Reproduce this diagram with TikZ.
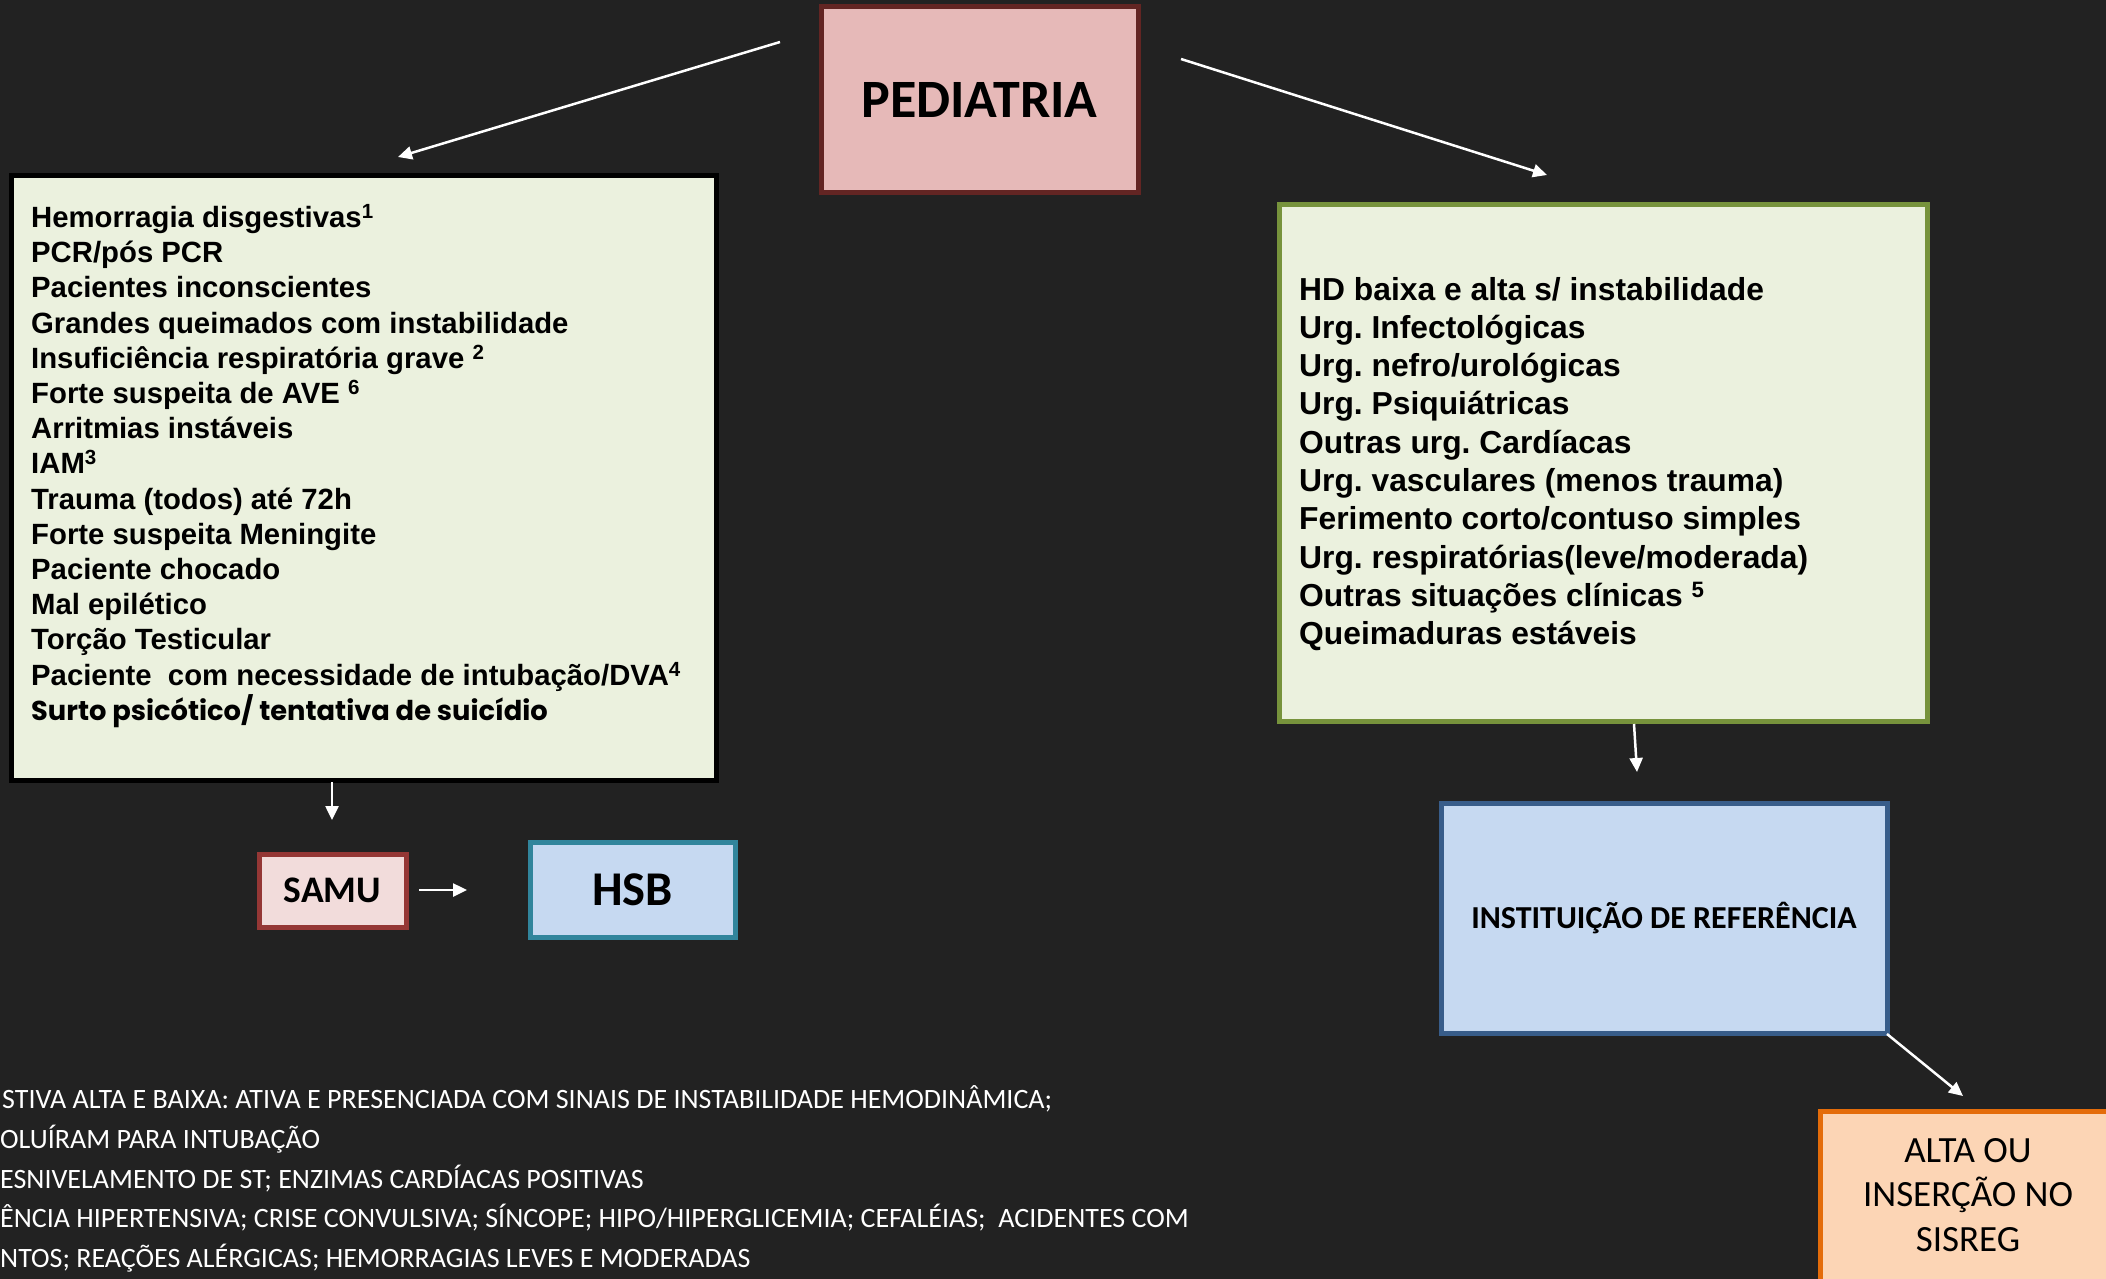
\documentclass[tikz,border=0pt]{standalone}
\usepackage{fontspec}
\setmainfont{Liberation Sans}
\newfontfamily\calib{Carlito}
\newfontfamily\gothic{Poppins}
\frenchspacing
\usetikzlibrary{arrows.meta}
\definecolor{bgc}{HTML}{222222}
\definecolor{pedfill}{HTML}{E6B9B8}
\definecolor{peddraw}{HTML}{632523}
\definecolor{grfill}{HTML}{EBF1DE}
\definecolor{grdraw}{HTML}{77933C}
\definecolor{blfill}{HTML}{C6D9F1}
\definecolor{bldraw}{HTML}{385D8A}
\definecolor{hsbdraw}{HTML}{31859C}
\definecolor{samufill}{HTML}{F2DCDB}
\definecolor{samudraw}{HTML}{953735}
\definecolor{orfill}{HTML}{FCD5B5}
\definecolor{ordraw}{HTML}{E46C0A}
\begin{document}
\begin{tikzpicture}[x=1pt,y=-1pt,
  box/.style={draw, line width=5pt, inner sep=0pt, rectangle},
  arr/.style={draw=white, line width=2.5pt, -{Triangle[length=14pt,width=13pt]}},
  note/.style={anchor=base west, text=white, inner sep=0pt, font=\calib\fontsize{28}{32}\selectfont}]
\useasboundingbox (0,0) rectangle (2106,1279);
\clip (0,0) rectangle (2106,1279);
\fill[bgc] (0,0) rectangle (2106,1279);

% boxes
\node[box, fill=pedfill, draw=peddraw, minimum width=317pt, minimum height=185pt,
      font=\calib\bfseries\fontsize{54}{64}\selectfont] (ped) at (979.5,99.5) {PEDIATRIA};
\node[box, fill=grfill, draw=black, minimum width=705pt, minimum height=605pt] (lb) at (363.5,477.5) {};
\node[box, fill=grfill, draw=grdraw, minimum width=648pt, minimum height=517pt] (rb) at (1603,462.5) {};
\node[box, fill=blfill, draw=bldraw, minimum width=446pt, minimum height=230pt,
      font=\calib\bfseries\fontsize{32}{38}\selectfont] (inst) at (1664,918) {INSTITUIÇÃO DE REFERÊNCIA};
\node[box, fill=samufill, draw=samudraw, minimum width=147pt, minimum height=73pt,
      font=\calib\bfseries\fontsize{37.5}{45}\selectfont] (samu) at (332.5,890.5) {SAMU};
\node[box, fill=blfill, draw=hsbdraw, minimum width=205pt, minimum height=95pt,
      font=\calib\bfseries\fontsize{48.5}{58}\selectfont] (hsb) at (632.5,889.5) {HSB};
\node[box, fill=orfill, draw=ordraw, minimum width=300pt, minimum height=190pt] (alta) at (1970,1206) {};
\node[align=center, inner sep=0pt, font=\calib\fontsize{37}{44.5}\selectfont] (altat) at (1968,1195)
  {ALTA OU\\INSERÇÃO NO\\SISREG};

% box texts
\node[anchor=west, align=left, inner sep=0pt, font=\bfseries\fontsize{29.3}{35.2}\selectfont] (lbt) at (31,466)
{Hemorragia disgestivas\textsuperscript{1}\\
PCR/pós PCR\\
Pacientes inconscientes\\
Grandes queimados com instabilidade\\
Insuficiência respiratória grave \textsuperscript{2}\\
Forte suspeita de AVE \textsuperscript{6}\\
Arritmias instáveis\\
IAM\textsuperscript{3}\\
Trauma (todos) até 72h\\
Forte suspeita Meningite\\
Paciente chocado\\
Mal epilético\\
Torção Testicular\\
Paciente\ \ com necessidade de intubação/DVA\textsuperscript{4}\\
{\gothic\bfseries\fontsize{27.3}{35.2}\selectfont Surto psicótico/ tentativa de suicídio}};

\node[anchor=west, align=left, inner sep=0pt, font=\bfseries\fontsize{31.8}{38.3}\selectfont] (rbt) at (1299,464)
{HD baixa e alta s/ instabilidade\\
Urg. Infectológicas\\
Urg. nefro/urológicas\\
Urg. Psiquiátricas\\
Outras urg. Cardíacas\\
Urg. vasculares (menos trauma)\\
Ferimento corto/contuso simples\\
Urg. respiratórias(leve/moderada)\\
Outras situações clínicas \textsuperscript{5}\\
Queimaduras estáveis};

% footnotes
\node[note] (n1) at (2,1108) {STIVA ALTA E BAIXA: ATIVA E PRESENCIADA COM SINAIS DE INSTABILIDADE HEMODINÂMICA;};
\node[note] (n2) at (0,1148) {OLUÍRAM PARA INTUBAÇÃO};
\node[note] (n3) at (0,1188) {ESNIVELAMENTO DE ST; ENZIMAS CARDÍACAS POSITIVAS};
\node[note] (n4) at (0,1227) {ÊNCIA HIPERTENSIVA; CRISE CONVULSIVA; SÍNCOPE; HIPO/HIPERGLICEMIA; CEFALÉIAS;\ \ ACIDENTES COM};
\node[note] (n5) at (0,1267) {NTOS; REAÇÕES ALÉRGICAS; HEMORRAGIAS LEVES E MODERADAS};

% arrow end points
\coordinate (a1s) at (780,42);   \coordinate (a1e) at (398,157);
\coordinate (a2s) at (1181,59);  \coordinate (a2e) at (1547,175);
\coordinate (a3s) at (332,782);  \coordinate (a3e) at (332,820);
\coordinate (a4s) at (419,890);  \coordinate (a4e) at (467,890);
\coordinate (a5s) at (1634,724); \coordinate (a5e) at (1637,772);
\coordinate (a6s) at (1887,1034); \coordinate (a6e) at (1963,1096);

\draw[arr] (a1s) -- (a1e);
\draw[arr] (a2s) -- (a2e);
\draw[arr] (a3s) -- (a3e);
\draw[arr] (a4s) -- (a4e);
\draw[arr] (a5s) -- (a5e);
\draw[arr] (a6s) -- (a6e);
\end{tikzpicture}
\end{document}
